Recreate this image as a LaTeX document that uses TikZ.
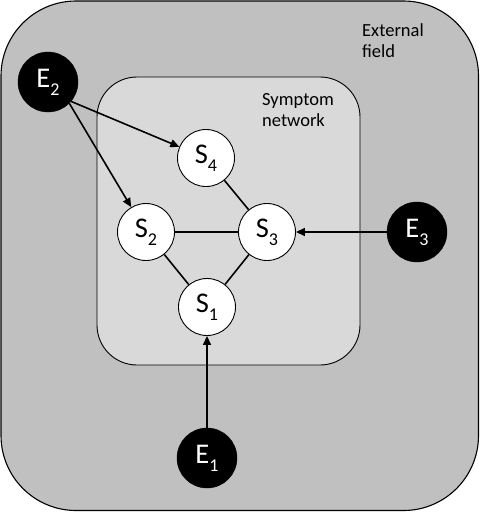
\documentclass[tikz,border=0pt]{standalone}
\usepackage{fontspec}
\setmainfont{Carlito}
\usetikzlibrary{arrows.meta}
\definecolor{outergray}{HTML}{C0C0C0}
\definecolor{innergray}{HTML}{D9D9D9}
\newcommand{\mysub}[1]{\raisebox{-0.28em}{\fontsize{18}{18}\selectfont #1}}
\begin{document}
\begin{tikzpicture}[x=1pt,y=-1pt,
  snode/.style={circle,draw=black,line width=0.9pt,fill=white,minimum size=57pt,inner sep=0pt,font=\fontsize{28.5}{30}\selectfont},
  enode/.style={circle,draw=black,fill=black,minimum size=60pt,inner sep=0pt,text=white,font=\fontsize{28.5}{30}\selectfont},
  arr/.style={line width=1.6pt,-{Triangle[length=9pt,width=8pt]}},
  edge/.style={line width=1.6pt},
  lbl/.style={font=\fontsize{18.5}{21.5}\selectfont,align=left,anchor=north west,inner sep=0pt}]
\useasboundingbox (0,0) rectangle (480,512);
\draw[fill=outergray,line width=1.1pt,rounded corners=75pt] (1,1) rectangle (478.5,510.5);
\draw[fill=innergray,line width=0.9pt,rounded corners=40pt] (97,77) rectangle (360,365);
\node[lbl] (ext) at (362,23) {External\\field};
\node[lbl] (sym) at (262,93) {Symptom\\network};
\node[snode] (S4) at (206,158) {S\mysub{4}};
\node[snode] (S2) at (146,232) {S\mysub{2}};
\node[snode] (S3) at (267,232) {S\mysub{3}};
\node[snode] (S1) at (207,307) {S\mysub{1}};
\node[enode] (E2) at (48,82) {E\mysub{2}};
\node[enode] (E3) at (417,232) {E\mysub{3}};
\node[enode] (E1) at (207,458) {E\mysub{1}};
\draw[edge] (S4) -- (S3);
\draw[edge] (S2) -- (S3);
\draw[edge] (S2) -- (S1);
\draw[edge] (S3) -- (S1);
\draw[arr] (E2.-40) -- (S4);
\draw[arr] (E2.-45) -- (S2);
\draw[arr] (E3) -- (S3);
\draw[arr] (E1) -- (S1);
\end{tikzpicture}
\end{document}
